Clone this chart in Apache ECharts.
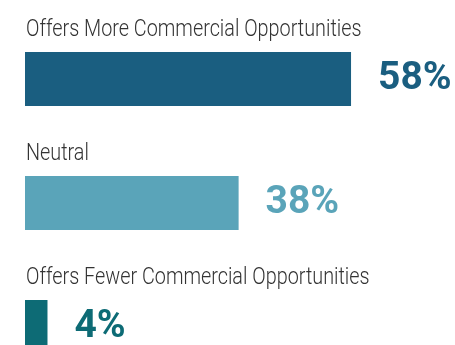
<!DOCTYPE html>
<html><head><meta charset="utf-8">
<script src="https://cdn.jsdelivr.net/npm/echarts@6/dist/echarts.min.js"></script>
<style>html,body{margin:0;padding:0;background:#fff;overflow:hidden;width:455px;height:345px}#c{width:455px;height:400px}</style>
</head><body><div id="c"></div>
<script>
const categories = ["Offers More Commercial Opportunities", "Neutral", "Offers Fewer Commercial Opportunities"];
const values = [58, 38, 4];
const colors = ["#1a5e80", "#5aa4b9", "#0d6b75"];

const chart = echarts.init(document.getElementById('c'), null, {renderer: 'canvas'});
chart.setOption({
  animation: false,
  grid: {left: 25, top: 17, width: 393.5, height: 372},
  xAxis: {type: 'value', min: 0, max: 70, show: false},
  yAxis: {type: 'category', data: categories, inverse: true, show: false},
  series: [
    {
      type: 'bar', barWidth: 54,
      data: values.map((v, i) => ({value: v, itemStyle: {color: colors[i]}, label: {color: colors[i]}})),
      label: {show: true, position: 'right', distance: 27, formatter: '{c}%',
        fontFamily: 'Roboto', fontWeight: 'bold', fontSize: 39}
    }
  ]
});
// category titles above each bar, placed through the axis scale
const graphics = categories.map((name, i) => {
  const p = chart.convertToPixel({gridIndex: 0}, [0, i]);
  return {
    type: 'text', x: p[0] + 1, y: p[1] - 27 - 34.5, scaleX: 0.825, scaleY: 1,
    style: {text: name, fill: '#333', font: '300 24px Roboto', verticalAlign: 'top'}
  };
});
chart.setOption({graphic: graphics});
</script></body></html>
